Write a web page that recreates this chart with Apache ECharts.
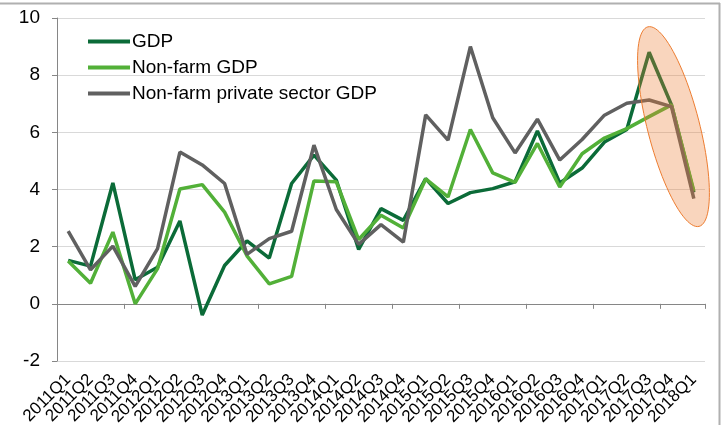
<!DOCTYPE html>
<html><head><meta charset="utf-8">
<script src="https://cdn.jsdelivr.net/npm/echarts@6/dist/echarts.min.js"></script>
<style>html,body{margin:0;padding:0;background:#fff}#c{width:724px;height:425px}</style>
</head><body><div id="c"></div>
<script>
const categories = ['2011Q1','2011Q2','2011Q3','2011Q4','2012Q1','2012Q2','2012Q3','2012Q4','2013Q1','2013Q2','2013Q3','2013Q4','2014Q1','2014Q2','2014Q3','2014Q4','2015Q1','2015Q2','2015Q3','2015Q4','2016Q1','2016Q2','2016Q3','2016Q4','2017Q1','2017Q2','2017Q3','2017Q4','2018Q1'];
const gdp = [1.52,1.32,4.23,0.84,1.28,2.9,-0.39,1.34,2.2,1.6,4.21,5.2,4.33,1.9,3.33,2.92,4.38,3.51,3.89,4.03,4.27,6.05,4.23,4.75,5.66,6.1,8.8,6.96,3.9];
const nonFarmGdp = [1.5,0.72,2.51,0.0,1.23,4.02,4.17,3.21,1.68,0.7,0.96,4.3,4.27,2.25,3.1,2.65,4.37,3.74,6.1,4.58,4.25,5.61,4.09,5.25,5.8,6.13,6.55,6.96,3.95];
const nonFarmPrivateGdp = [2.54,1.19,2.02,0.61,1.93,5.31,4.86,4.21,1.73,2.28,2.54,5.55,3.3,2.08,2.77,2.16,6.61,5.73,9.0,6.51,5.28,6.46,5.03,5.75,6.6,7.02,7.13,6.9,3.68];
const seriesNames = ['GDP','Non-farm GDP','Non-farm private sector GDP'];
const yMin = -2, yMax = 10, yStep = 2;

const FONT = '"Liberation Sans", Arial, sans-serif';
const chart = echarts.init(document.getElementById('c'), null, {renderer:'canvas'});
const colors = ['#0B6B38','#52B038','#606060'];

chart.setOption({
  animation:false,
  backgroundColor:'#fff',
  grid:{left:57,right:19,top:18,bottom:64,containLabel:false,outerBoundsMode:'none'},
  legend:{
    orient:'vertical', left:83, top:27, icon:'rect', itemWidth:42, itemHeight:4, itemGap:7,
    textStyle:{fontFamily:FONT,fontSize:19,color:'#000',padding:[0,0,0,-3],lineHeight:19},
    data:seriesNames
  },
  xAxis:[
    {type:'category',data:categories,position:'bottom',boundaryGap:true,
     axisLine:{show:true,onZero:true,lineStyle:{color:'#868686',width:1}},
     axisTick:{show:true,length:5,lineStyle:{color:'#868686'}},
     axisLabel:{show:false},splitLine:{show:false}},
    {type:'category',data:categories,position:'bottom',boundaryGap:true,
     axisLine:{show:false,onZero:false},axisTick:{show:false},
     axisLabel:{show:true,rotate:45,interval:0,margin:16,fontFamily:FONT,fontSize:17,color:'#000'},
     splitLine:{show:false}}
  ],
  yAxis:{type:'value',min:yMin,max:yMax,interval:yStep,
    axisLine:{show:true,lineStyle:{color:'#868686'}},
    axisTick:{show:true,length:5,lineStyle:{color:'#868686'}},
    axisLabel:{fontFamily:FONT,fontSize:19,color:'#000',margin:17},
    splitLine:{show:true,lineStyle:{color:'#D9D9D9',width:1}}},
  series:[
    {name:seriesNames[0],type:'line',data:gdp,symbol:'none',xAxisIndex:0,color:colors[0],lineStyle:{width:3.5,color:colors[0]}},
    {name:seriesNames[1],type:'line',data:nonFarmGdp,symbol:'none',xAxisIndex:0,color:colors[1],lineStyle:{width:3.5,color:colors[1]}},
    {name:seriesNames[2],type:'line',data:nonFarmPrivateGdp,symbol:'none',xAxisIndex:0,color:colors[2],lineStyle:{width:3.5,color:colors[2]}}
  ]
});

// Annotation ellipse around the last quarters
const c = chart.convertToPixel({xAxisIndex:0,yAxisIndex:0},['2017Q4',6.2]);
const cx = c[0]+2, cy = c[1];
const a = 103, b = 26, th = -14.4*Math.PI/180;
const pts = [];
for(let i=0;i<96;i++){
  const t = i/96*2*Math.PI;
  const ex = b*Math.cos(t), ey = a*Math.sin(t);
  pts.push([cx + ex*Math.cos(th) - ey*Math.sin(th), cy + ex*Math.sin(th) + ey*Math.cos(th)]);
}
chart.setOption({graphic:[
  {type:'polygon',z:100,shape:{points:pts},style:{fill:'rgba(237,125,49,0.32)',stroke:'#ED7D31',lineWidth:1}},
  {type:'line',z:100,shape:{x1:0,y1:3.5,x2:720,y2:3.5},style:{stroke:'#B0B0B0',lineWidth:2}},
  {type:'line',z:100,shape:{x1:719.5,y1:3,x2:719.5,y2:425},style:{stroke:'#B0B0B0',lineWidth:2}}
]});
</script></body></html>
